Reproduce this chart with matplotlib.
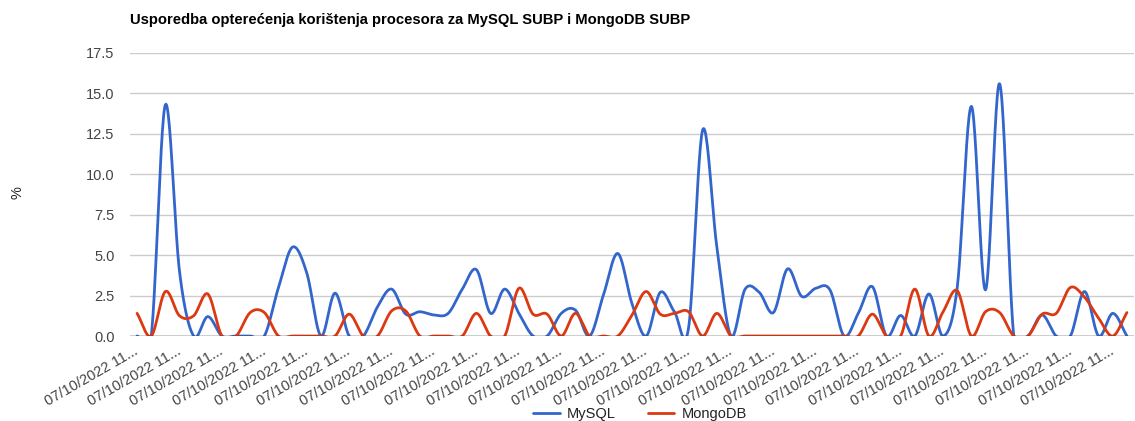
import numpy as np
import matplotlib
matplotlib.use("Agg")
import matplotlib.pyplot as plt

# ---- data ----
n_points = 71
categories = ["07/10/2022 11..."] * n_points
mysql = [0, 0, 14.3, 4.0, 0, 1.2, 0, 0, 0, 0,
         3.0, 5.5, 3.9, 0, 2.65, 0, 0, 1.8, 2.9, 1.35,
         1.5, 1.3, 1.4, 2.9, 4.1, 1.4, 2.9, 1.4, 0, 0,
         1.4, 1.6, 0, 2.6, 5.1, 2.0, 0, 2.7, 1.5, 0.5,
         12.75, 5.5, 0, 2.9, 2.7, 1.45, 4.15, 2.45, 2.95, 2.85,
         0, 1.4, 3.05, 0, 1.27, 0, 2.6, 0, 3.0, 14.2,
         2.85, 15.6, 0, 0, 1.3, 0, 0, 2.75, 0, 1.4,
         0]
mongodb = [1.4, 0, 2.75, 1.25, 1.25, 2.6, 0, 0, 1.45, 1.45,
           0, 0, 0, 0, 0, 1.35, 0, 0, 1.55, 1.55,
           0, 0, 0, 0, 1.4, 0, 0, 2.95, 1.35, 1.35,
           0, 1.4, 0, 0, 0, 1.3, 2.75, 1.35, 1.4, 1.5,
           0, 1.4, 0, 0, 0, 0, 0, 0, 0, 0,
           0, 0, 1.35, 0, 0, 2.9, 0, 1.5, 2.8, 0,
           1.5, 1.45, 0, 0, 1.35, 1.4, 3.0, 2.4, 1.1, 0,
           1.45]
series_names = ["MySQL", "MongoDB"]
y_ticks = [0.0, 2.5, 5.0, 7.5, 10.0, 12.5, 15.0, 17.5]
title = "Usporedba opterećenja korištenja procesora za MySQL SUBP i MongoDB SUBP"
y_label = "%"


def smooth_path(values, steps=24):
    """Catmull-Rom style curve through the data points (drawing only)."""
    y = np.asarray(values, float)
    x = np.arange(len(y), dtype=float)
    m = np.empty_like(y)
    m[1:-1] = (y[2:] - y[:-2]) / 2.0
    m[0] = y[1] - y[0]
    m[-1] = y[-1] - y[-2]
    t = np.linspace(0, 1, steps, endpoint=False)
    h00 = 2 * t**3 - 3 * t**2 + 1
    h10 = t**3 - 2 * t**2 + t
    h01 = -2 * t**3 + 3 * t**2
    h11 = t**3 - t**2
    xs, ys = [], []
    for i in range(len(y) - 1):
        xs.append(x[i] + t)
        ys.append(h00 * y[i] + h10 * m[i] + h01 * y[i + 1] + h11 * m[i + 1])
    xs.append([x[-1]])
    ys.append([y[-1]])
    return np.concatenate(xs), np.concatenate(ys)


plt.rcParams['font.family'] = ['Liberation Sans', 'DejaVu Sans']

W, H = 1135, 421
fig = plt.figure(figsize=(W / 100, H / 100), dpi=100)
left, right, top, bottom = 130, 1134, 53, 336
ax = fig.add_axes([left / W, (H - bottom) / H, (right - left) / W, (bottom - top) / H])

colors = ["#3366cc", "#dc3912"]
for vals, name, c in zip([mysql, mongodb], series_names, colors):
    xs, ys = smooth_path(vals)
    ax.plot(xs, ys, color=c, lw=2, label=name, solid_capstyle='round', zorder=3)

ax.set_xlim(-0.5, n_points - 0.5)
ax.set_ylim(0, 17.5)
ax.set_yticks(y_ticks)
ax.set_yticklabels([f"{v:.1f}" for v in y_ticks], color="#444444", fontsize=10.5)
ax.yaxis.grid(True, color="#cccccc", lw=1)
ax.set_axisbelow(True)
ax.axhline(0, color="#333333", lw=1, zorder=4)
for s in ax.spines.values():
    s.set_visible(False)
ax.tick_params(axis='both', length=0)
ax.tick_params(axis='y', pad=11)

xt = list(range(0, n_points, 3))
ax.set_xticks(xt)
ax.set_xticklabels([categories[i] for i in xt], rotation=30, ha='right',
                   va='center', rotation_mode='anchor', color="#444444", fontsize=10.5)
ax.tick_params(axis='x', pad=10)

fig.text(17 / W, 1 - 193 / H, y_label, rotation=90, color="#222222",
         fontsize=10.5, ha='center', va='center')

fig.text(left / W, 1 - 20 / H, title, fontsize=10.6, fontweight='bold',
         ha='left', va='center', color="#000000")

leg = fig.legend(loc='center', bbox_to_anchor=(640 / W, 1 - 414 / H), ncol=2,
                 frameon=False, fontsize=10.5, handlelength=1.8, columnspacing=2.2,
                 handletextpad=0.5)
for t in leg.get_texts():
    t.set_color("#222222")

fig.savefig("out.png", dpi=100)
